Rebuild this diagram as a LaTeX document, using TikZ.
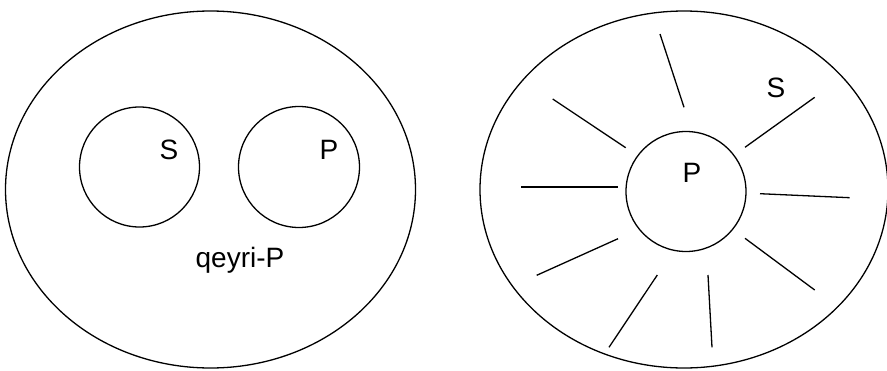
\documentclass[tikz,border=0pt]{standalone}
\usepackage{fontspec}
\setmainfont{Liberation Sans}
\begin{document}
\begin{tikzpicture}[x={(1pt,0)},y={(0,-1pt)},
  line/.style={line width=1.3pt,black},
  lbl/.style={inner sep=0pt,font=\fontsize{28}{33}\selectfont}]
\useasboundingbox (0,0) rectangle (887,370);
% left diagram
\draw[line] (210.5,189.5) ellipse [x radius=205, y radius=178.5];
\draw[line] (139.5,167) circle [radius=60];
\draw[line] (299,167) circle [radius=60.5];
\node[lbl] (sL) at (169,150) {S};
\node[lbl] (pL) at (329,150) {P};
\node[lbl,anchor=base] (np) at (240,267) {qeyri-P};
% right diagram
\draw[line] (684,189.5) ellipse [x radius=204, y radius=178.5];
\draw[line] (686,191.5) circle [radius=60];
\node[lbl] (pR) at (692,173) {P};
\node[lbl] (sR) at (776,88) {S};
\draw[line] (660,34) -- (684,107.3);
\draw[line] (552.7,99) -- (625.7,147.7);
\draw[line] (814.7,97.3) -- (745,147.3);
\draw[line] (521.3,187) -- (618,187);
\draw[line] (760,193.7) -- (849.7,197.7);
\draw[line] (618,238.7) -- (536.7,275.3);
\draw[line] (745,238.3) -- (814.7,290);
\draw[line] (657.3,275) -- (609,347.3);
\draw[line] (708,275) -- (712,347.3);
\end{tikzpicture}
\end{document}
